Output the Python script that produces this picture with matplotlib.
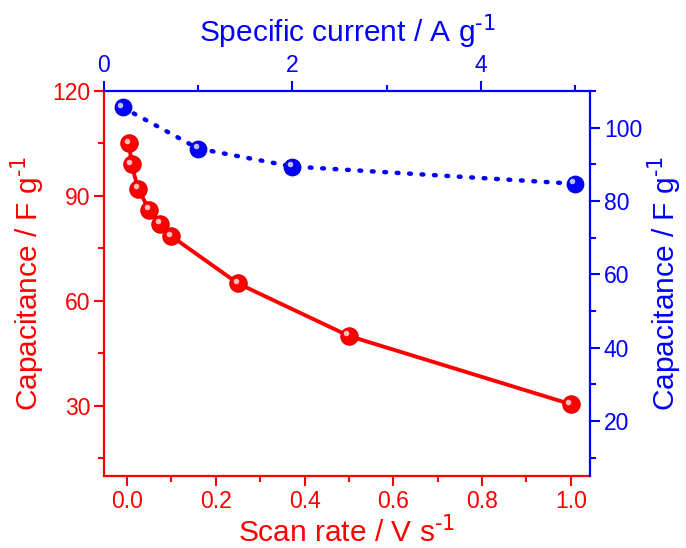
import matplotlib
matplotlib.use("Agg")
import matplotlib.pyplot as plt
from matplotlib.ticker import MultipleLocator
from matplotlib.transforms import offset_copy

plt.rcParams['font.family'] = ['Liberation Sans', 'DejaVu Sans']
plt.rcParams['mathtext.default'] = 'regular'

# red series: capacitance vs scan rate
scan_rate = [0.005, 0.01, 0.025, 0.05, 0.075, 0.1, 0.25, 0.5, 1.0]
cap_scan = [105, 99, 92, 86, 82, 78.5, 65, 50, 30.5]

# blue series: capacitance vs specific current
spec_current = [0.2, 1, 2, 5]
cap_current = [105.5, 94.3, 89.4, 84.7]

RED = (1.0, 0.0, 0.0)
BLUE = (0.0, 0.0, 1.0)
SUP = '$^{\\text{-1}}$'

fig = plt.figure(figsize=(6.86, 5.48), dpi=100)
ax = fig.add_axes([0.1516, 0.1314, 0.7084, 0.7026])
ax2 = ax.twinx()
ax3 = ax2.twiny()

# red curve
ax.plot(scan_rate, cap_scan, '-', color=RED, lw=2.8, zorder=2)
ax.plot(scan_rate, cap_scan, 'o', ms=12.5, color=RED, mec=(0.85, 0, 0), mew=0.8, zorder=3)
hl = offset_copy(ax.transData, fig=fig, x=-2.5, y=2.5, units='dots')
ax.plot(scan_rate, cap_scan, 'o', ms=4, color=(1, 0.75, 0.75), mew=0, transform=hl, zorder=4)

# blue curve
ax3.plot(spec_current, cap_current, color=BLUE, lw=3.2, linestyle=(0, (0.4, 2.4)),
         dash_capstyle='round', zorder=2)
ax3.plot(spec_current, cap_current, 'o', ms=12, color=BLUE, mec=(0, 0, 0.8), mew=0.8, zorder=3)
hl3 = offset_copy(ax3.transData, fig=fig, x=-2.5, y=2.5, units='dots')
ax3.plot(spec_current, cap_current, 'o', ms=4, color=(0.75, 0.75, 1), mew=0, transform=hl3, zorder=4)

ax.set_xlim(-0.052, 1.043)
ax.set_ylim(10, 120)
ax2.set_ylim(5, 110)
ax3.set_xlim(0, 5.16)

ax.xaxis.set_major_locator(MultipleLocator(0.2))
ax.xaxis.set_minor_locator(MultipleLocator(0.1))
ax.yaxis.set_major_locator(MultipleLocator(30))
ax.yaxis.set_minor_locator(MultipleLocator(15))
ax2.yaxis.set_major_locator(MultipleLocator(20))
ax2.yaxis.set_minor_locator(MultipleLocator(10))
ax3.xaxis.set_major_locator(MultipleLocator(2))
ax3.xaxis.set_minor_locator(MultipleLocator(1))

ax.xaxis.set_major_formatter(plt.FormatStrFormatter('%.1f'))

for a in (ax, ax2, ax3):
    for s in a.spines.values():
        s.set_visible(False)
    a.patch.set_visible(False)

ax.spines['left'].set_visible(True)
ax.spines['left'].set_color(RED)
ax.spines['bottom'].set_visible(True)
ax.spines['bottom'].set_color(RED)
ax2.spines['right'].set_visible(True)
ax2.spines['right'].set_color(BLUE)
ax3.spines['top'].set_visible(True)
ax3.spines['top'].set_color(BLUE)
for a, s in ((ax, 'left'), (ax, 'bottom'), (ax2, 'right'), (ax3, 'top')):
    a.spines[s].set_linewidth(1.6)

for a, c in ((ax, RED), (ax2, BLUE), (ax3, BLUE)):
    a.tick_params(which='both', direction='out', colors=c, width=1.5, labelsize=16.5, pad=3)
    a.tick_params(which='major', length=7)
    a.tick_params(which='minor', length=4)

ax.set_xlabel('Scan rate / V s' + SUP, color=RED, fontsize=21.5, labelpad=2)
ax.set_ylabel('Capacitance / F g' + SUP, color=RED, fontsize=21.5, labelpad=4)
ax2.set_ylabel('Capacitance / F g' + SUP, color=BLUE, fontsize=21.5, rotation=90, labelpad=2)
ax3.set_xlabel('Specific current / A g' + SUP, color=BLUE, fontsize=21.5, labelpad=9)

fig.savefig('out.png', dpi=100, facecolor='white')
